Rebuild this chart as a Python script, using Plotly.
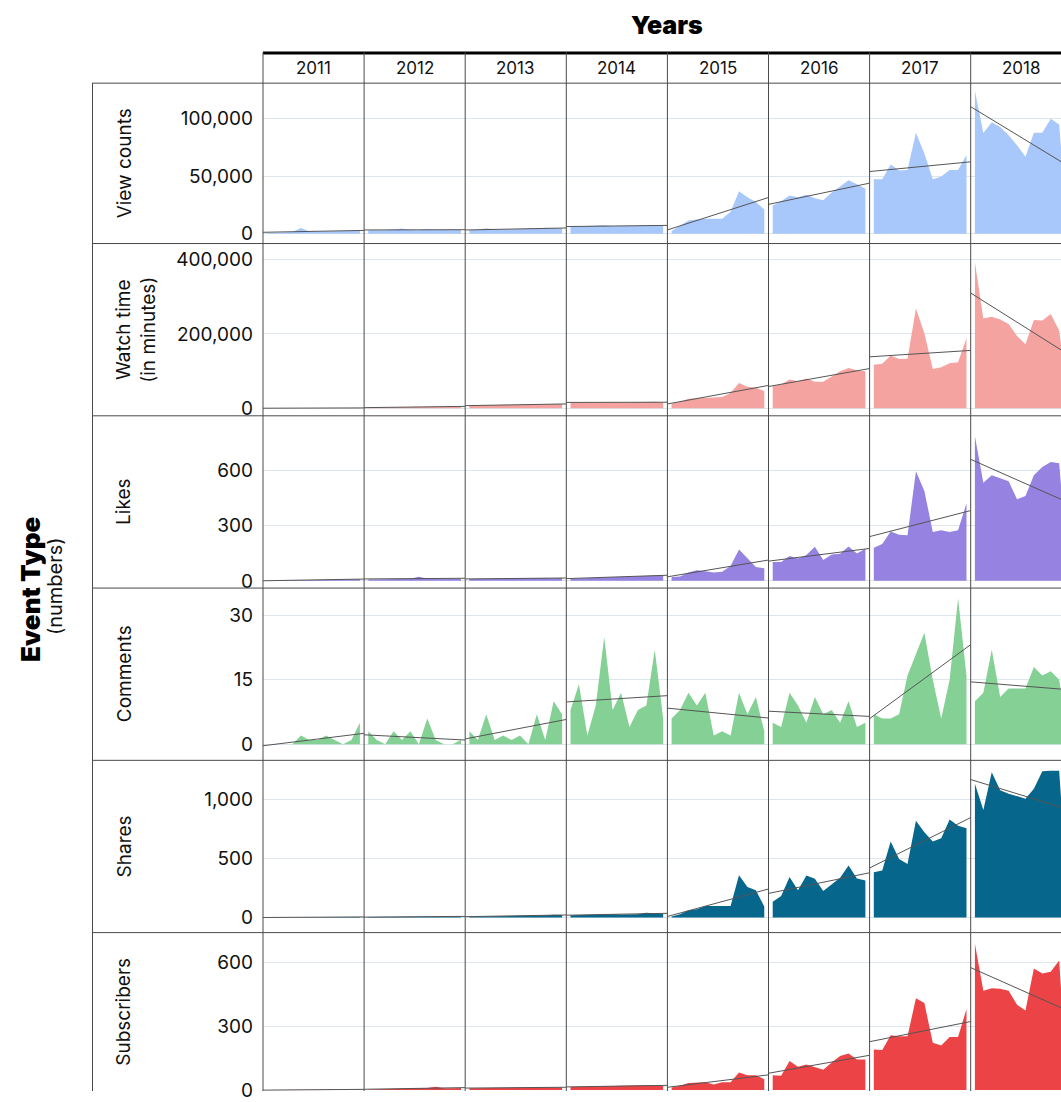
import numpy as np
import plotly.graph_objects as go

# ---- data -----------------------------------------------------------------
years = [2011, 2012, 2013, 2014, 2015, 2016, 2017, 2018]
months = list(range(1, 13))
metric_labels = ["View counts", "Watch time<br>(in minutes)", "Likes",
                 "Comments", "Shares", "Subscribers"]

view_counts = [
    [500, 800, 1200, 1500, 5000, 1800, 1800, 2000, 2200, 2300, 2400, 2500],
    [3000, 2800, 3000, 3500, 4500, 3200, 3000, 3800, 3200, 3400, 3300, 3200],
    [3000, 3300, 4600, 3600, 3500, 3700, 3800, 4000, 4500, 5200, 4800, 4600],
    [6000, 6200, 6300, 6800, 7200, 6500, 6400, 6600, 6800, 7000, 7600, 6800],
    [2300, 7000, 11500, 12300, 13000, 13000, 13000, 19000, 37000, 31600, 27600, 21000],
    [24400, 28100, 33300, 31600, 33900, 30900, 29000, 35900, 41100, 46500, 43100, 39100],
    [47400, 47400, 60300, 54900, 55500, 87900, 69800, 47400, 49700, 55500, 55500, 68400],
    [124400, 87600, 97100, 92800, 85600, 77000, 67000, 87900, 87900, 100000, 95000, 3000],
]
watch_time = [
    [0, 0, 0, 100, 400, 300, 300, 400, 500, 500, 600, 800],
    [1500, 1800, 2000, 2500, 3500, 2800, 3000, 3500, 3800, 4200, 4500, 4800],
    [7000, 7500, 8000, 8200, 8500, 8800, 9000, 9500, 10000, 10500, 11000, 11500],
    [15000, 15500, 16000, 16500, 16000, 15500, 15000, 15500, 16000, 16500, 17000, 15000],
    [12000, 17000, 25600, 27000, 28000, 28000, 30000, 41000, 68000, 58000, 55000, 46000],
    [59500, 64000, 77300, 72800, 80000, 71000, 71000, 86100, 99500, 108300, 102100, 99500],
    [117300, 119900, 142200, 132300, 133000, 268300, 201600, 105600, 110000, 121000, 124000, 188300],
    [392800, 241700, 246200, 239000, 226700, 194700, 172300, 237300, 236000, 253400, 209000, 44000],
]
likes = [
    [1, 2, 2, 3, 4, 5, 4, 5, 8, 10, 8, 9],
    [8, 9, 10, 12, 14, 12, 22, 12, 10, 13, 12, 12],
    [10, 11, 12, 12, 13, 12, 13, 14, 15, 15, 14, 15],
    [12, 14, 16, 18, 20, 22, 20, 24, 25, 26, 28, 30],
    [21, 23, 45, 58, 52, 46, 49, 81, 171, 122, 75, 68],
    [102, 102, 135, 122, 140, 185, 113, 144, 147, 187, 149, 174],
    [180, 201, 269, 251, 248, 596, 489, 266, 275, 266, 275, 422],
    [786, 533, 575, 560, 542, 444, 462, 575, 619, 646, 640, 88],
]
comments = [
    [0, 0, 0, 0, 2, 1, 1, 2, 1, 0, 1, 5],
    [3, 1, 0, 3, 1, 3, 0, 6, 1, 0, 0, 1],
    [3, 1, 7, 1, 2, 1, 2, 0, 7, 1, 10, 7],
    [8, 14, 2, 9, 25, 8, 12, 4, 8, 9, 22, 6],
    [6, 8, 12, 9, 12, 2, 3, 2, 12, 7, 11, 3],
    [5, 4, 12, 9, 5, 11, 7, 8, 5, 10, 4, 5],
    [7, 6, 6, 7, 16, 21, 26, 15, 6, 15, 34, 16],
    [10, 12, 22, 11, 13, 13, 13, 18, 16, 17, 15, 3],
]
shares = [
    [0, 0, 0, 1, 2, 2, 3, 2, 3, 3, 4, 4],
    [3, 4, 4, 5, 5, 6, 6, 7, 7, 8, 8, 9],
    [8, 9, 10, 12, 10, 12, 14, 15, 16, 18, 22, 20],
    [18, 20, 22, 25, 30, 28, 25, 24, 28, 40, 35, 30],
    [8, 28, 62, 70, 98, 98, 98, 98, 359, 258, 230, 92],
    [134, 182, 344, 230, 356, 328, 224, 280, 336, 440, 330, 314],
    [384, 398, 644, 496, 454, 821, 722, 644, 672, 832, 779, 756],
    [1134, 911, 1232, 1079, 1050, 1028, 1008, 1092, 1241, 1245, 1245, 200],
]
subscribers = [
    [0, 0, 0, 0, 1, 1, 1, 2, 2, 2, 3, 3],
    [3, 4, 5, 5, 6, 7, 8, 10, 15, 8, 8, 9],
    [8, 9, 10, 10, 11, 12, 13, 12, 12, 11, 12, 12],
    [14, 15, 16, 17, 18, 18, 19, 20, 20, 22, 20, 20],
    [12, 20, 33, 33, 36, 26, 36, 36, 82, 70, 70, 51],
    [70, 67, 137, 110, 120, 106, 95, 129, 160, 172, 144, 144],
    [191, 188, 258, 253, 253, 432, 409, 222, 210, 250, 250, 381],
    [688, 467, 479, 476, 467, 401, 374, 572, 548, 556, 610, 5],
]
metrics = [view_counts, watch_time, likes, comments, shares, subscribers]

# ---- styling ----------------------------------------------------------------
fill_colors = ["rgb(168,199,250)", "rgb(245,163,160)", "rgb(149,130,225)",
               "rgb(133,208,149)", "rgb(6,102,140)", "rgb(236,68,70)"]
tick_values = [[0, 50000, 100000], [0, 200000, 400000], [0, 300, 600],
               [0, 15, 30], [0, 500, 1000], [0, 300, 600]]
y_ranges = [[-8621, 131034], [-20533, 443467], [-39.3, 897.8],
            [-3.76, 36.39], [-128.5, 1333], [-4.66, 740.7]]

W, H = 1061, 1102
FONT = "Inter"
LINE = "#4a4a4a"
GRID = "#dde5ee"
col_left, col_w = 263.0, 101.1
row_edges = [84, 246, 420, 594, 768, 942, 1102]
label_centers = [165, 333, 507, 681, 855, 1022]


def px(x):
    return x / W


def py(y):
    return 1 - y / H


fig = go.Figure()
layout = {}

for r, series in enumerate(metrics):
    for c, year in enumerate(years):
        idx = r * len(years) + c + 1
        xa = "x" if idx == 1 else f"x{idx}"
        ya = "y" if idx == 1 else f"y{idx}"
        vals = series[c]

        fig.add_trace(go.Scatter(
            x=months, y=vals, xaxis=xa, yaxis=ya, mode="lines",
            line=dict(width=0, color=fill_colors[r]), fill="tozeroy",
            fillcolor=fill_colors[r], hoverinfo="skip", showlegend=False))

        # per-year linear trend across the full panel width
        slope, icpt = np.polyfit(months, vals, 1)
        tx = [0.5, 12.5]
        fig.add_trace(go.Scatter(
            x=tx, y=[icpt + slope * t for t in tx], xaxis=xa, yaxis=ya,
            mode="lines", line=dict(width=1, color="#555555"),
            hoverinfo="skip", showlegend=False))

        x0 = col_left + c * col_w
        x1 = min(x0 + col_w, W)
        xr = [0.5, 0.5 + (x1 - x0) / col_w * 12]
        layout["xaxis" if idx == 1 else f"xaxis{idx}"] = dict(
            domain=[px(x0), px(x1)], range=xr, anchor=ya,
            showgrid=False, zeroline=False, showticklabels=False,
            ticks="", showline=False, fixedrange=True)
        layout["yaxis" if idx == 1 else f"yaxis{idx}"] = dict(
            domain=[py(row_edges[r + 1]), py(row_edges[r])],
            range=y_ranges[r], anchor=xa, tickvals=tick_values[r],
            tickformat=",", showgrid=True, gridcolor=GRID, gridwidth=1,
            zeroline=False, showline=False, ticks="",
            showticklabels=(c == 0), ticklabelstandoff=9,
            ticklabeloverflow="allow",
            tickfont=dict(family=FONT, size=19, color="#111111"),
            fixedrange=True)

# ---- table frame --------------------------------------------------------------
shapes = []
shapes.append(dict(type="line", xref="paper", yref="paper",
                   x0=px(263), x1=1, y0=py(53.5), y1=py(53.5),
                   line=dict(color="#000000", width=3), layer="above"))
for y in row_edges[:-1]:
    shapes.append(dict(type="line", xref="paper", yref="paper",
                       x0=px(92), x1=1, y0=py(y), y1=py(y),
                       line=dict(color=LINE, width=1), layer="above"))
shapes.append(dict(type="line", xref="paper", yref="paper",
                   x0=px(92.5), x1=px(92.5), y0=py(84), y1=0,
                   line=dict(color=LINE, width=1), layer="above"))
for c in range(len(years)):
    x = col_left + c * col_w
    shapes.append(dict(type="line", xref="paper", yref="paper",
                       x0=px(x), x1=px(x), y0=py(53), y1=0,
                       line=dict(color=LINE, width=1), layer="above"))

# ---- text -------------------------------------------------------------------
def note(text, x, y, size, angle=0, weight="normal", color="#111111"):
    return dict(text=text, x=px(x), y=py(y), xref="paper", yref="paper",
                xanchor="center", yanchor="middle", showarrow=False,
                textangle=angle,
                font=dict(family=FONT, size=size, color=color, weight=weight))


annotations = [note("Years", 667, 25, 25, weight=900, color="#000000")]
for c, year in enumerate(years):
    annotations.append(note(str(year), col_left + (c + 0.5) * col_w, 69, 17))
for r, lab in enumerate(metric_labels):
    xc = 136 if "<br>" in lab else 124
    annotations.append(note(lab, xc, label_centers[r], 19, angle=-90))
annotations.append(note("Event Type", 30, 595, 26, angle=-90, weight=900,
                        color="#000000"))
annotations.append(note("(numbers)", 55, 592, 20, angle=-90))

fig.update_layout(
    width=W, height=H, margin=dict(l=0, r=0, t=0, b=0),
    paper_bgcolor="white", plot_bgcolor="white",
    shapes=shapes, annotations=annotations, showlegend=False,
    **layout)

fig.write_html("out.html")
